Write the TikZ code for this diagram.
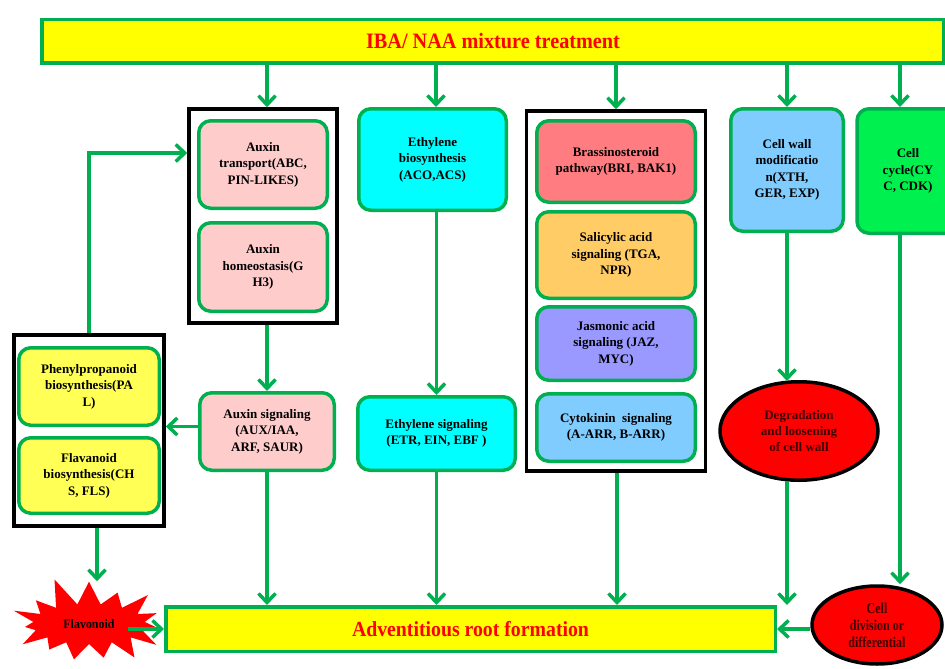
\documentclass[tikz,border=0pt]{standalone}
\usepackage{fontspec}
\setmainfont{Liberation Serif}
\newfontfamily\narrowserif[FakeStretch=0.8]{Liberation Serif}
\newfontfamily\barserif[FakeStretch=0.92]{Liberation Serif}
\usetikzlibrary{arrows.meta,fit,shapes.geometric,shapes.symbols}

\definecolor{grn}{HTML}{00B050}
\definecolor{ybright}{HTML}{FFFF00}
\definecolor{ysoft}{HTML}{FFFF55}
\definecolor{pinkbox}{HTML}{FFCCCC}
\definecolor{cyanbox}{HTML}{00FFFF}
\definecolor{brassbox}{HTML}{FF7C80}
\definecolor{salibox}{HTML}{FFCC66}
\definecolor{jasmbox}{HTML}{9999FF}
\definecolor{bluebox}{HTML}{80CCFF}
\definecolor{cyclebox}{HTML}{00F050}
\definecolor{darkred}{HTML}{3C0000}

\tikzset{
  gbox/.style={draw=grn, line width=3.5pt, rounded corners=12pt, align=center,
    inner sep=2pt, font=\bfseries\fontsize{13}{16.5}\selectfont},
  grpbox/.style={draw=black, line width=3.5pt},
  redoval/.style={ellipse, draw=black, line width=3.5pt, fill=red, inner sep=0pt,
    align=center, text=darkred},
  arr/.style={draw=grn, line width=3.5pt, -{Straight Barb[length=9pt,width=17pt]}},
}

\begin{document}
\begin{tikzpicture}[x=1pt,y=-1pt]
\useasboundingbox (0,0) rectangle (945,669);

% top and bottom bars
\node[gbox, fill=ybright, rounded corners=0pt, minimum width=902pt, minimum height=43.5pt,
  text=red, font=\barserif\bfseries\fontsize{22}{24}\selectfont]
  (banner) at (493,41.5) {IBA/ NAA mixture treatment};
\node[gbox, fill=ybright, rounded corners=0pt, minimum width=609.5pt, minimum height=44.5pt,
  text=red, font=\barserif\bfseries\fontsize{21.5}{24}\selectfont]
  (adv) at (470.5,629) {Adventitious root formation};

% auxin column
\node[gbox, fill=pinkbox, minimum width=128.5pt, minimum height=87.5pt]
  (auxtr) at (263,164.5) {Auxin\\transport(ABC,\\PIN-LIKES)};
\node[gbox, fill=pinkbox, minimum width=128.5pt, minimum height=88.5pt]
  (auxho) at (263,267) {Auxin\\homeostasis(G\\H3)};
\node[grpbox, fit=(auxtr)(auxho), inner xsep=8pt, inner ysep=10pt] (grp1) {};
\node[gbox, fill=pinkbox, minimum width=134.5pt, minimum height=77.5pt]
  (auxsig) at (267,431.5) {Auxin signaling\\(AUX/IAA,\\ARF, SAUR)};

% ethylene column
\node[gbox, fill=cyanbox, minimum width=147.5pt, minimum height=101.5pt]
  (ethbio) at (432.5,159.5) {Ethylene\\biosynthesis\\(ACO,ACS)};
\node[gbox, fill=cyanbox, minimum width=157.5pt, minimum height=73.5pt]
  (ethsig) at (436.5,433.5) {Ethylene signaling\\(ETR, EIN, EBF )};

% other hormones
\node[gbox, fill=brassbox, minimum width=158.5pt, minimum height=81.5pt]
  (brass) at (616,161.5) {Brassinosteroid\\pathway(BRI, BAK1)};
\node[gbox, fill=salibox, minimum width=158.5pt, minimum height=86.5pt]
  (sali) at (616,255) {Salicylic acid\\signaling (TGA,\\NPR)};
\node[gbox, fill=jasmbox, minimum width=158.5pt, minimum height=73.5pt]
  (jasm) at (616,343.5) {Jasmonic acid\\signaling (JAZ,\\MYC)};
\node[gbox, fill=bluebox, minimum width=158.5pt, minimum height=67.5pt]
  (cyto) at (616,427.5) {Cytokinin~~signaling\\(A-ARR, B-ARR)};
\node[grpbox, fit=(brass)(cyto), inner xsep=8.5pt, inner ysep=8pt] (grp2) {};

% cell wall and cell cycle
\node[gbox, fill=bluebox, minimum width=112.5pt, minimum height=122.5pt]
  (cellwall) at (787,170) {Cell wall\\modificatio\\n(XTH,\\GER, EXP)};
\node[gbox, fill=cyclebox, minimum width=102pt, minimum height=124.5pt]
  (cellcyc) at (908,171) {Cell\\cycle(CY\\C, CDK)};
\node[redoval, minimum width=158pt, minimum height=98.5pt,
  font=\bfseries\fontsize{13}{16}\selectfont]
  (degr) at (799,431) {Degradation\\and loosening\\of cell wall};
\node[redoval, minimum width=130pt, minimum height=78pt,
  font=\narrowserif\bfseries\fontsize{15}{17}\selectfont]
  (celldiv) at (877,625) {Cell\\division or\\differential};

% flavonoid side
\node[gbox, fill=ysoft, minimum width=140.5pt, minimum height=77.5pt]
  (phen) at (89,386.5) {Phenylpropanoid\\biosynthesis(PA\\L)};
\node[gbox, fill=ysoft, minimum width=140.5pt, minimum height=75.5pt]
  (flav) at (89,475.5) {Flavanoid\\biosynthesis(CH\\S, FLS)};
\node[grpbox, fit=(phen)(flav), inner xsep=3pt, inner ysep=11pt] (grp3) {};
\node[starburst, starburst points=15, starburst point height=30pt, random starburst=11,
  fill=red, minimum width=172pt, minimum height=100pt, inner sep=0pt,
  font=\barserif\bfseries\fontsize{13}{15}\selectfont]
  (flavo) at (89,624) {Flavonoid};

% arrows from the treatment bar
\draw[arr] ([xshift=4pt]grp1.north |- banner.south) -- ([xshift=4pt]grp1.north);
\draw[arr] ([xshift=3.5pt]ethbio.north |- banner.south) -- ([xshift=3.5pt]ethbio.north);
\draw[arr] (grp2.north |- banner.south) -- (grp2.north);
\draw[arr] (cellwall.north |- banner.south) -- (cellwall.north);
\draw[arr] ([xshift=-8pt]cellcyc.north |- banner.south) -- ([xshift=-8pt]cellcyc.north);

% arrows between the boxes
\draw[arr] (auxsig.north |- grp1.south) -- (auxsig.north);
\draw[arr] (ethsig.north |- ethbio.south) -- (ethsig.north);
\draw[arr] ([yshift=5pt]auxsig.west) -- ([yshift=5pt]auxsig.west -| grp3.east);
\draw[arr] (grp3.north) |- ([yshift=11.5pt]auxtr.center -| grp1.west);
\draw[arr] (cellwall.south) -- ([yshift=-1pt]cellwall.south |- degr.north);
\draw[arr] ([xshift=-8pt]cellcyc.south) -- ([xshift=-8pt]cellcyc.south |- celldiv.north);
\draw[arr] ([xshift=8pt]grp3.south) -- ([xshift=8pt]grp3.south |- flavo.north);

% arrows into the root formation bar
\draw[arr] (auxsig.south) -- (auxsig.south |- adv.north);
\draw[arr] (ethsig.south) -- (ethsig.south |- adv.north);
\draw[arr] ([xshift=1pt]grp2.south) -- ([xshift=1pt]grp2.south |- adv.north);
\draw[arr] ([yshift=1pt]degr.south -| cellwall.south) -- (cellwall.south |- adv.north);
\draw[arr] ([xshift=-36pt]adv.west) -- (adv.west);
\draw[arr] (celldiv.west |- adv.east) -- (adv.east);
\end{tikzpicture}
\end{document}
